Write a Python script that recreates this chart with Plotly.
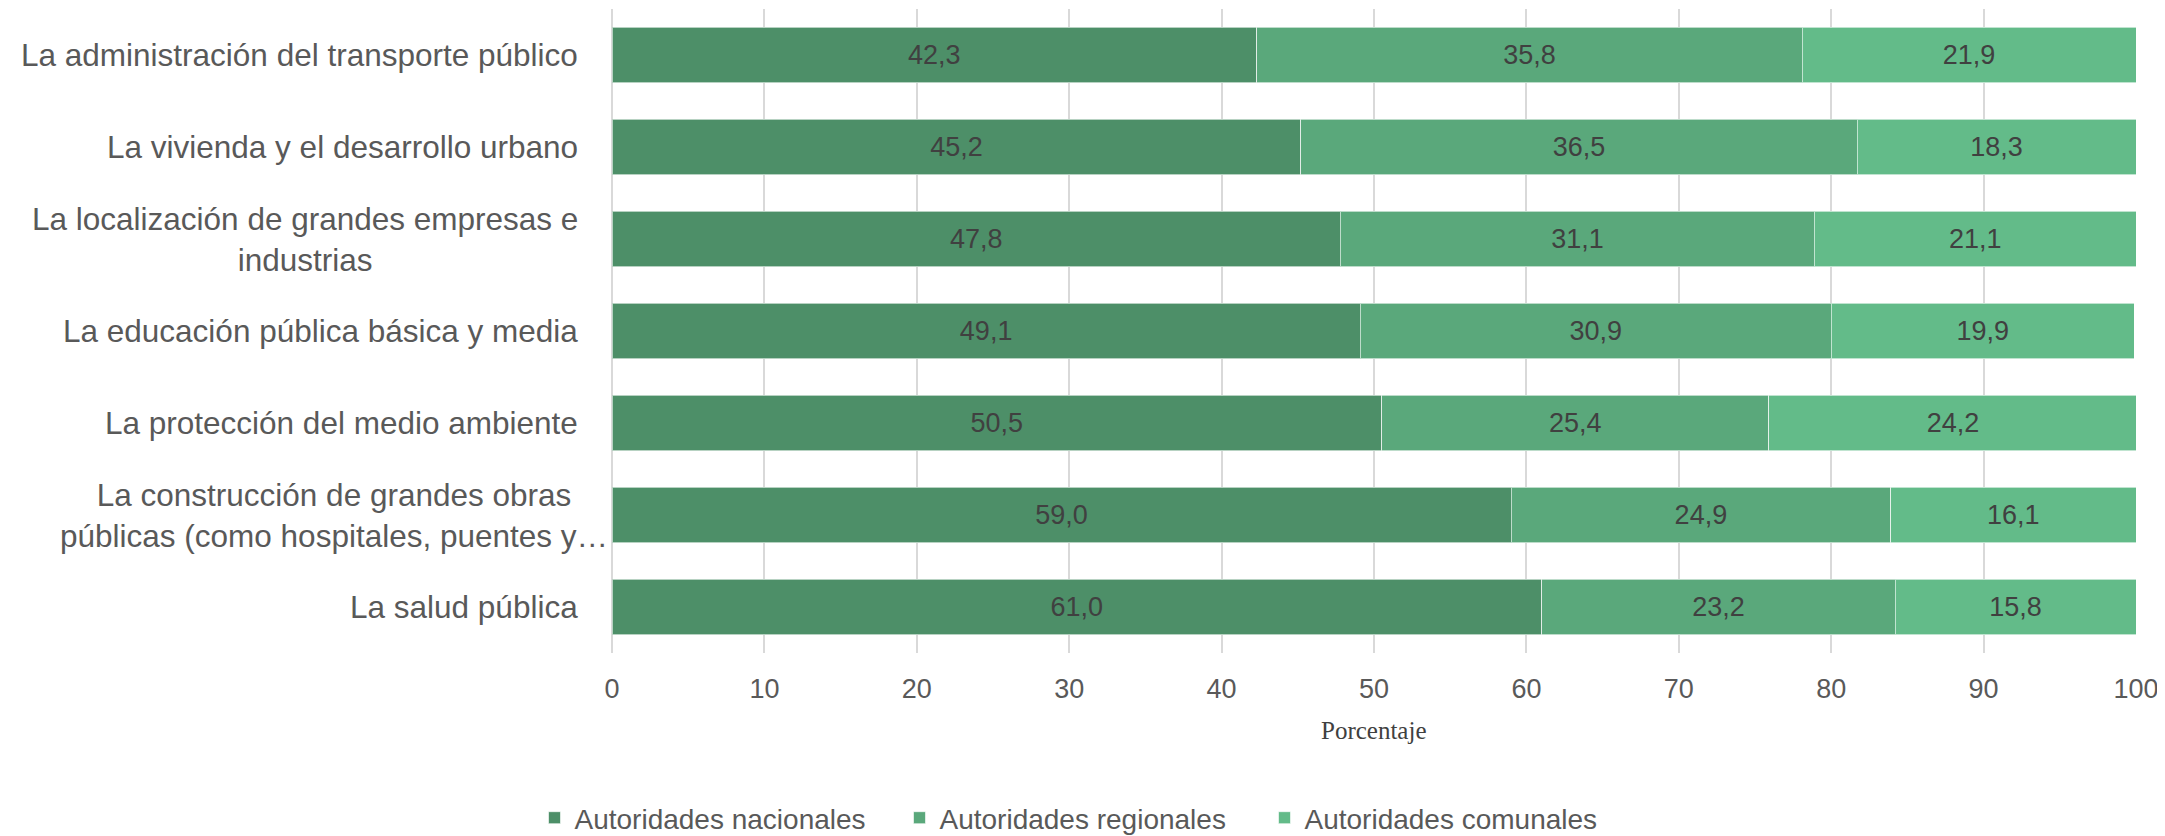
import plotly.graph_objects as go

categories = [
    "La administración del transporte público",
    "La vivienda y el desarrollo urbano",
    "La localización de grandes empresas e<br>industrias",
    "La educación pública básica y media",
    "La protección del medio ambiente",
    "La construcción de grandes obras<br>públicas (como hospitales, puentes y…",
    "La salud pública",
]
nacionales = [42.3, 45.2, 47.8, 49.1, 50.5, 59.0, 61.0]
regionales = [35.8, 36.5, 31.1, 30.9, 25.4, 24.9, 23.2]
comunales = [21.9, 18.3, 21.1, 19.9, 24.2, 16.1, 15.8]
series_names = ["Autoridades nacionales", "Autoridades regionales", "Autoridades comunales"]
colors = ["#4d8f68", "#5aa87b", "#63bb89"]
x_ticks = [0, 10, 20, 30, 40, 50, 60, 70, 80, 90, 100]

FONT = "Liberation Sans, Arial, sans-serif"

# page body has an 8px margin; figure is sized to fit the 2165x836 window
W, H = 2157, 828
L, R, T, B = 604, 29, 1, 183
plot_h = H - T - B

fig = go.Figure()
for name, vals, col in zip(series_names, [nacionales, regionales, comunales], colors):
    fig.add_trace(go.Bar(
        y=categories, x=vals, name=name, orientation="h",
        marker=dict(color=col, line=dict(color="rgba(255,255,255,0.6)", width=1)),
        texttemplate="%{x:.1f}", textposition="inside", insidetextanchor="middle",
        textangle=0, textfont=dict(family=FONT, size=27, color="#404040"),
        constraintext="none",
    ))

for c in categories:
    fig.add_annotation(
        x=0, xref="paper", y=c, yref="y", text=c, showarrow=False,
        xanchor="right", yanchor="middle", align="center",
        xshift=(-2 if "…" in c else -32),
        font=dict(family=FONT, size=31.5, color="#595959"),
    )

fig.add_annotation(
    x=0.5, xref="paper", y=(H - B - 722) / plot_h, yref="paper",
    text="Porcentaje", showarrow=False, xanchor="center", yanchor="middle",
    font=dict(family="Liberation Serif, Times New Roman, serif", size=25, color="#404040"),
)

fig.update_layout(
    width=W, height=H,
    barmode="stack", bargap=0.4,
    separators=",.",
    plot_bgcolor="white", paper_bgcolor="white",
    margin=dict(l=L, r=R, t=T, b=B, autoexpand=False),
    font=dict(family=FONT, color="#595959"),
    showlegend=True,
    legend=dict(
        orientation="h", xref="container", yref="container",
        x=(1082 - 8) / W, xanchor="center", y=1 - 810 / H, yanchor="middle",
        font=dict(family=FONT, size=28, color="#595959"),
        traceorder="normal", entrywidth=320,
    ),
)
fig.update_xaxes(
    range=[0, 100], tickvals=x_ticks, ticktext=[str(t) for t in x_ticks],
    showgrid=True, gridcolor="#d9d9d9", gridwidth=1.5,
    zeroline=True, zerolinecolor="#d9d9d9", zerolinewidth=1.5,
    showline=False, ticks="outside", ticklen=12, tickcolor="rgba(0,0,0,0)",
    tickfont=dict(family=FONT, size=27, color="#595959"),
)
fig.update_yaxes(
    range=[6.5, -0.5], showticklabels=False, showgrid=False,
    zeroline=False, showline=False,
)

fig.write_html("out.html")
